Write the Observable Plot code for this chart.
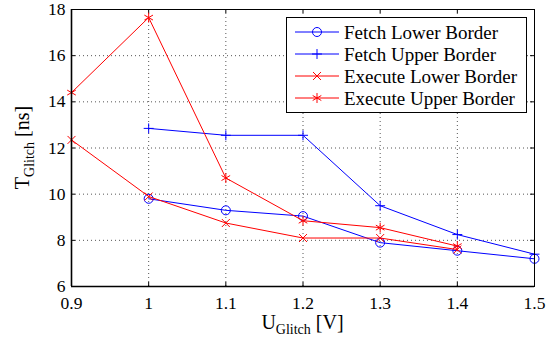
<!DOCTYPE html>
<html>
<head>
<meta charset="utf-8">
<script src="https://cdn.jsdelivr.net/npm/d3@7"></script>
<script src="https://cdn.jsdelivr.net/npm/@observablehq/plot@0.6"></script>
<style>
  html, body { margin: 0; padding: 0; background: #fff; }
  #chart { position: relative; width: 560px; height: 344px; }
  #chart svg, #chart svg text { font-family: "Liberation Serif", "DejaVu Serif", serif !important; }
</style>
</head>
<body>
<div id="chart"></div>
<script>
// ---- data ----
const voltages = [0.9, 1.0, 1.1, 1.2, 1.3, 1.4, 1.5];
const fetchLower = [null, 9.8, 9.3, 9.05, 7.9, 7.55, 7.2];
const fetchUpper = [null, 12.85, 12.55, 12.55, 9.5, 8.25, 7.4];
const executeLower = [12.35, 9.9, 8.75, 8.1, 8.1, 7.6, null];
const executeUpper = [14.4, 17.65, 10.7, 8.85, 8.55, 7.75, null];
const seriesNames = ["Fetch Lower Border", "Fetch Upper Border", "Execute Lower Border", "Execute Upper Border"];
const xTicks = [0.9, 1.0, 1.1, 1.2, 1.3, 1.4, 1.5];
const xTickLabels = ["0.9", "1", "1.1", "1.2", "1.3", "1.4", "1.5"];
const yTicks = [6, 8, 10, 12, 14, 16, 18];

const seriesValues = [fetchLower, fetchUpper, executeLower, executeUpper];
const colors = ["#0000ff", "#0000ff", "#ff0000", "#ff0000"];
const symbols = ["circle", "plus", "times", "asterisk"];
const symbolR = {circle: 4.5, plus: 3.3, times: 3.7, asterisk: 4.7};

const rows = [];
seriesValues.forEach((vals, s) => {
  vals.forEach((v, i) => { if (v != null) rows.push({series: seriesNames[s], x: voltages[i], y: v, s}); });
});

const W = 560, H = 344;
const mL = 71, mR = 26, mT = 9, mB = 58;
const plotH = H - mT - mB, plotW = W - mL - mR;

const marks = [
  Plot.gridX(xTicks, {stroke: "#555", strokeOpacity: 1, strokeDasharray: "1,3"}),
  Plot.gridY(yTicks, {stroke: "#555", strokeOpacity: 1, strokeDasharray: "1,3"}),
  // inward ticks on all four sides
  Plot.tickX(xTicks, {x: d => d, insetTop: plotH - 4, stroke: "#000"}),
  Plot.tickX(xTicks, {x: d => d, insetBottom: plotH - 4, stroke: "#000"}),
  Plot.tickY(yTicks, {y: d => d, insetRight: plotW - 4, stroke: "#000"}),
  Plot.tickY(yTicks, {y: d => d, insetLeft: plotW - 4, stroke: "#000"}),
  Plot.axisX({ticks: xTicks, tickSize: 0, tickPadding: 10, tickFormat: (d) => xTickLabels[xTicks.indexOf(d)], fontSize: 17.5, fontFamily: "Liberation Serif", label: null, color: "#000"}),
  Plot.axisY({ticks: yTicks, tickSize: 0, tickPadding: 6, fontSize: 17.5, fontFamily: "Liberation Serif", label: null, color: "#000"}),
];
seriesNames.forEach((name, s) => {
  const data = rows.filter(r => r.s === s);
  marks.push(Plot.line(data, {x: "x", y: "y", stroke: colors[s], strokeWidth: 1}));
  marks.push(Plot.dot(data, {x: "x", y: "y", symbol: symbols[s], stroke: colors[s], fill: "none", r: symbolR[symbols[s]], strokeWidth: 1}));
});
marks.push(Plot.frame({stroke: "#000", strokeWidth: 1}));
marks.push(Plot.ruleX([0.9], {stroke: "#000", strokeWidth: 1.6}));
marks.push(Plot.ruleY([6], {stroke: "#000", strokeWidth: 1.6}));

const chart = Plot.plot({
  width: W, height: H,
  marginLeft: mL, marginRight: mR, marginTop: mT, marginBottom: mB,
  x: {domain: [0.9, 1.5]},
  y: {domain: [6, 18]},
  style: {fontFamily: "Liberation Serif, serif", fontSize: "16px", color: "#000", background: "#fff"},
  marks
});
document.getElementById("chart").appendChild(chart);

// axis labels with subscripts
const svg = d3.select(chart);
const xl = svg.append("text").attr("x", mL + plotW / 2).attr("y", 329).attr("text-anchor", "middle")
  .attr("font-size", 20).attr("fill", "#000");
xl.append("tspan").text("U");
xl.append("tspan").attr("font-size", 14).attr("dy", 5).text("Glitch");
xl.append("tspan").attr("dy", -5).text(" [V]");

const yl = svg.append("text").attr("transform", `translate(29,${mT + plotH / 2}) rotate(-90)`).attr("text-anchor", "middle")
  .attr("font-size", 20).attr("fill", "#000");
yl.append("tspan").text("T");
yl.append("tspan").attr("font-size", 14).attr("dy", 5).text("Glitch");
yl.append("tspan").attr("dy", -5).text(" [ns]");

// legend
const lg = svg.append("g");
lg.append("rect").attr("x", 286.5).attr("y", 17.5).attr("width", 240).attr("height", 95)
  .attr("fill", "#fff").attr("stroke", "#000").attr("stroke-width", 1);
const symMap = {circle: d3.symbolCircle, plus: d3.symbolPlus, times: d3.symbolTimes, asterisk: d3.symbolAsterisk};
seriesNames.forEach((name, s) => {
  const y = 32 + s * 22;
  lg.append("line").attr("x1", 295).attr("x2", 339).attr("y1", y).attr("y2", y).attr("stroke", colors[s]).attr("stroke-width", 1);
  const r = symbolR[symbols[s]];
  lg.append("path").attr("transform", `translate(317,${y})`).attr("d", d3.symbol(symMap[symbols[s]], Math.PI * r * r)())
    .attr("fill", "none").attr("stroke", colors[s]).attr("stroke-width", 1);
  lg.append("text").attr("x", 344).attr("y", y + 6.5).attr("text-anchor", "start").attr("font-size", 19).attr("fill", "#000").text(name);
});
</script>
</body>
</html>
